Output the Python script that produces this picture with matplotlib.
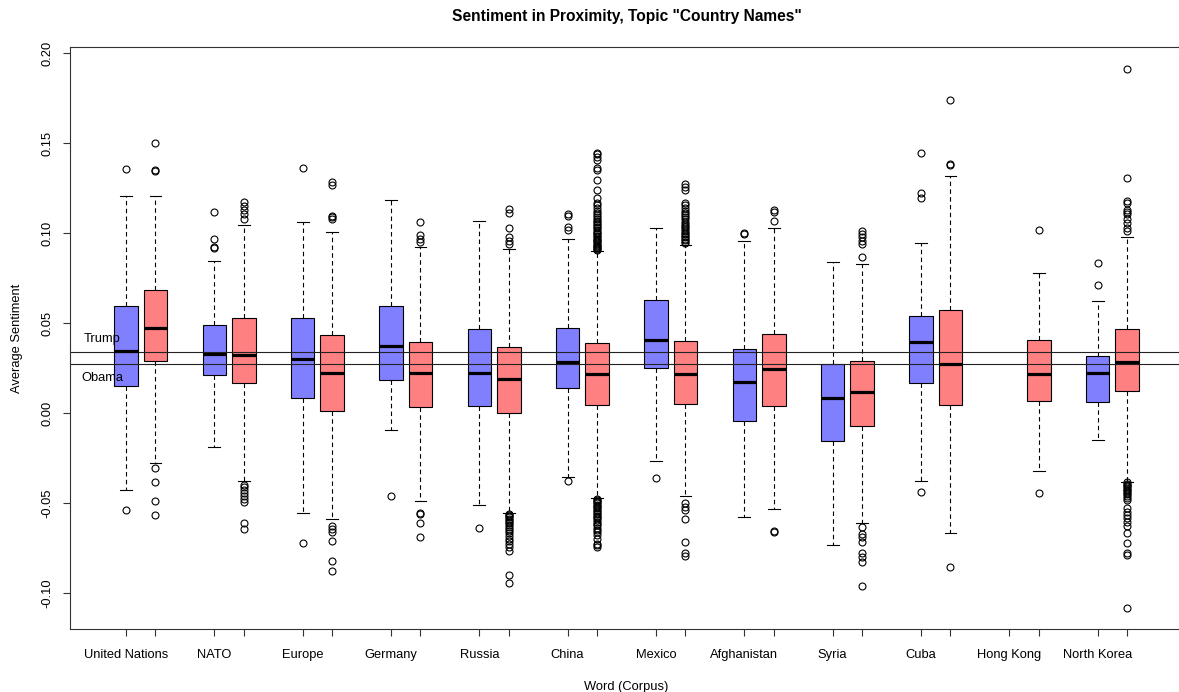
import matplotlib
matplotlib.use('Agg')
import matplotlib.pyplot as plt

plt.rcParams['font.family'] = ['Liberation Sans', 'DejaVu Sans']

words = ['United Nations', 'NATO', 'Europe', 'Germany', 'Russia', 'China',
         'Mexico', 'Afghanistan', 'Syria', 'Cuba', 'Hong Kong', 'North Korea']

# Obama corpus (None = no data)
obama_lo = [-0.0428, -0.0191, -0.0554, -0.0094, -0.0511, -0.0357, -0.0269, -0.0581, -0.0733, -0.0380, None, -0.0150]
obama_q1 = [0.0148, 0.0213, 0.0081, 0.0183, 0.0037, 0.0137, 0.0248, -0.0044, -0.0154, 0.0169, None, 0.0063]
obama_med = [0.0344, 0.0329, 0.0302, 0.0370, 0.0220, 0.0283, 0.0406, 0.0170, 0.0085, 0.0394, None, 0.0222]
obama_q3 = [0.0594, 0.0489, 0.0530, 0.0596, 0.0465, 0.0474, 0.0628, 0.0356, 0.0270, 0.0541, None, 0.0315]
obama_hi = [0.1209, 0.0844, 0.1063, 0.1183, 0.1069, 0.0965, 0.1030, 0.0956, 0.0839, 0.0946, None, 0.0622]
obama_out = [
    [0.1357, -0.0539],
    [0.1120, 0.0969, 0.0922, 0.0918],
    [0.1363, -0.0724],
    [-0.0461],
    [-0.0639],
    [0.1106, 0.1093, 0.1035, 0.1017, -0.0376],
    [-0.0359],
    [0.1000, 0.0996],
    [],
    [0.1443, 0.1226, 0.1198, -0.0441],
    [],
    [0.0833, 0.0709],
]

# Trump corpus
trump_lo = [-0.0280, -0.0376, -0.0589, -0.0491, -0.0554, -0.0472, -0.0459, -0.0535, -0.0609, -0.0669, -0.0324, -0.0381]
trump_q1 = [0.0287, 0.0165, 0.0013, 0.0035, -0.0002, 0.0043, 0.0048, 0.0037, -0.0074, 0.0043, 0.0069, 0.0124]
trump_med = [0.0472, 0.0321, 0.0220, 0.0224, 0.0187, 0.0217, 0.0219, 0.0243, 0.0117, 0.0274, 0.0215, 0.0283]
trump_q3 = [0.0683, 0.0528, 0.0433, 0.0396, 0.0369, 0.0387, 0.0402, 0.0437, 0.0289, 0.0572, 0.0407, 0.0465]
trump_hi = [0.1207, 0.1046, 0.1004, 0.0922, 0.0913, 0.0902, 0.0935, 0.1030, 0.0831, 0.1320, 0.0778, 0.0976]
trump_out = [
    [0.1504, 0.1352, 0.1348, -0.0304, -0.0381, -0.0491, -0.0567],
    [0.1171, 0.1152, 0.1128, 0.1104, 0.1078,
     -0.0402, -0.0413, -0.0428, -0.0443, -0.0459, -0.0478, -0.0496, -0.0609, -0.0646],
    [0.1285, 0.1265, 0.1096, 0.1087, 0.1078,
     -0.0628, -0.0646, -0.0659, -0.0709, -0.0824, -0.0878],
    [0.1061, 0.0989, 0.0970, 0.0952, -0.0557, -0.0561, -0.0611, -0.0689],
    [0.1133, 0.1113, 0.1031, 0.0976, 0.0957, 0.0939,
     -0.0559, -0.0566, -0.0573, -0.0580, -0.0588, -0.0596, -0.0605, -0.0614, -0.0624,
     -0.0634, -0.0645, -0.0656, -0.0668, -0.0682, -0.0698, -0.0713, -0.0728, -0.0745,
     -0.0770, -0.0898, -0.0943],
    [0.0905, 0.0910, 0.0915, 0.0921, 0.0928, 0.0934, 0.0941, 0.0948, 0.0955, 0.0962,
     0.0970, 0.0978, 0.0986, 0.0993, 0.1001, 0.1009, 0.1017, 0.1026, 0.1034, 0.1043,
     0.1052, 0.1061, 0.1070, 0.1080, 0.1090, 0.1100, 0.1112, 0.1125, 0.1140, 0.1155,
     0.1170, 0.1193, 0.1239, 0.1298, 0.1350, 0.1363, 0.1409, 0.1424, 0.1439, 0.1446,
     -0.0478, -0.0483, -0.0490, -0.0496, -0.0503, -0.0510, -0.0517, -0.0524, -0.0531,
     -0.0538, -0.0546, -0.0554, -0.0562, -0.0570, -0.0578, -0.0586, -0.0595, -0.0605,
     -0.0615, -0.0625, -0.0637, -0.0650, -0.0663, -0.0676, -0.0700, -0.0726, -0.0735,
     -0.0744],
    [0.0945, 0.0952, 0.0960, 0.0968, 0.0976, 0.0985, 0.0994, 0.1003, 0.1012, 0.1022,
     0.1032, 0.1042, 0.1053, 0.1064, 0.1076, 0.1088, 0.1100, 0.1112, 0.1125, 0.1140,
     0.1155, 0.1169, 0.1239, 0.1257, 0.1276,
     -0.0502, -0.0520, -0.0539, -0.0589, -0.0715, -0.0776, -0.0794],
    [0.1128, 0.1115, 0.1070, -0.0655, -0.0659],
    [0.1013, 0.0994, 0.0976, 0.0957, 0.0939, 0.0867,
     -0.0635, -0.0672, -0.0691, -0.0717, -0.0776, -0.0798, -0.0826, -0.0963],
    [0.1743, 0.1387, 0.1378, -0.0859],
    [0.1020, -0.0443],
    [0.1915, 0.1309, 0.1180, 0.1165, 0.1128, 0.1115, 0.1104, 0.1078, 0.1054, 0.1031, 0.1013,
     -0.0385, -0.0392, -0.0399, -0.0406, -0.0413, -0.0420, -0.0428, -0.0436, -0.0444,
     -0.0452, -0.0462, -0.0472, -0.0483, -0.0530, -0.0548, -0.0567, -0.0585, -0.0604,
     -0.0631, -0.0665, -0.0724, -0.0779, -0.0789, -0.1085],
]

trump_line = 0.0337
obama_line = 0.0270
yticks = [-0.10, -0.05, 0.00, 0.05, 0.10, 0.15, 0.20]
ytick_labels = ['-0.10', '-0.05', '0.00', '0.05', '0.10', '0.15', '0.20']

fig = plt.figure(figsize=(11.79, 6.92), dpi=100)
ax = fig.add_axes([70 / 1179, 63 / 692, 1113 / 1179, 582 / 692])


def make_stats(lo, q1, med, q3, hi, out):
    stats = []
    for i in range(len(lo)):
        if lo[i] is None:
            stats.append(None)
            continue
        stats.append({'whislo': lo[i], 'q1': q1[i], 'med': med[i], 'q3': q3[i],
                      'whishi': hi[i], 'fliers': out[i]})
    return stats


ob_stats = make_stats(obama_lo, obama_q1, obama_med, obama_q3, obama_hi, obama_out)
tr_stats = make_stats(trump_lo, trump_q1, trump_med, trump_q3, trump_hi, trump_out)

for stats, offset, color in [(ob_stats, 1, '#8080ff'), (tr_stats, 2, '#ff8080')]:
    pos = [3 * i + offset for i in range(len(stats)) if stats[i] is not None]
    st = [s for s in stats if s is not None]
    ax.bxp(st, positions=pos, widths=0.8, capwidths=0.4, patch_artist=True,
           manage_ticks=False,
           boxprops=dict(facecolor=color, edgecolor='black', linewidth=0.8),
           medianprops=dict(color='black', linewidth=2.3, solid_capstyle='butt'),
           whiskerprops=dict(color='black', linewidth=0.8, linestyle=(0, (4, 3))),
           capprops=dict(color='black', linewidth=0.8),
           flierprops=dict(marker='o', markerfacecolor='none', markeredgecolor='black',
                           markersize=5, markeredgewidth=0.8))

ax.axhline(trump_line, color='#222222', linewidth=0.8)
ax.axhline(obama_line, color='#222222', linewidth=0.8)
ax.text(0.2, 0.041, 'Trump', ha='center', va='center', fontsize=9.3)
ax.text(0.2, 0.0196, 'Obama', ha='center', va='center', fontsize=9.3)

ax.set_xlim(-0.9, 36.9)
ax.set_ylim(-0.1201, 0.2035)

xt = []
for i in range(len(words)):
    xt += [3 * i + 1, 3 * i + 2]
ax.set_xticks(xt)
xl = []
for w in words:
    xl += [w, '']
ax.set_xticklabels(xl, fontsize=9.3)
ax.set_yticks(yticks)
ax.set_yticklabels(ytick_labels, fontsize=9.3, rotation=90, va='center')
ax.tick_params(axis='both', length=5, width=0.8, color='#333333')
ax.tick_params(axis='x', pad=9.5)
ax.tick_params(axis='y', pad=7)
for s in ax.spines.values():
    s.set_linewidth(0.8)
    s.set_color('#333333')

ax.set_xlabel('Word (Corpus)', fontsize=9.3, labelpad=14)
ax.set_ylabel('Average Sentiment', fontsize=9.3, labelpad=13)
fig.text(626.5 / 1179, 1 - 16 / 692, 'Sentiment in Proximity, Topic "Country Names"',
         ha='center', va='center', fontsize=11.2, fontweight='bold')

fig.savefig('out.png', dpi=100)
